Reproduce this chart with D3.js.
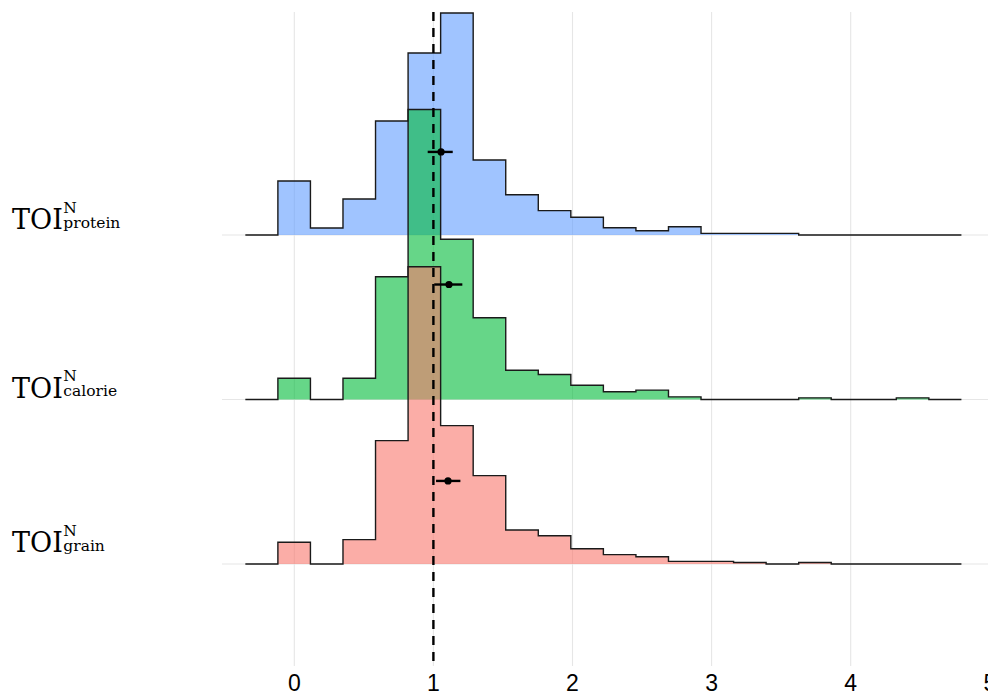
<!DOCTYPE html>
<html>
<head>
<meta charset="utf-8">
<script src="https://cdn.jsdelivr.net/npm/d3@7"></script>
<style>
  body { margin: 0; background: #fff; }
  svg { display: block; }
</style>
</head>
<body>
<div id="chart"></div>
<script>
// rows, top to bottom
const categories = ["protein", "calorie", "grain"];

// histogram bins (x units): first edge and width, 22 bins
const binStart = -0.352;
const binWidth = 0.234;

// bar heights per bin, in row-height units
const proteinBins = [0, 0.328, 0.043, 0.219, 0.693, 1.106, 1.350, 0.456, 0.245, 0.148, 0.108,
    0.044, 0.026, 0.050, 0.010, 0.010, 0.010, 0, 0, 0, 0, 0];
const calorieBins = [0, 0.129, 0, 0.129, 0.746, 1.763, 0.974, 0.497, 0.178, 0.152, 0.087,
    0.047, 0.057, 0.016, 0, 0, 0, 0.010, 0, 0, 0.010, 0];
const grainBins = [0, 0.132, 0, 0.148, 0.750, 1.807, 0.841, 0.537, 0.207, 0.172, 0.093,
    0.057, 0.044, 0.016, 0.016, 0.009, 0, 0.009, 0, 0, 0, 0];

// point + interval drawn on each ridge
const estMean = [1.055, 1.112, 1.105];
const estLow = [0.959, 1.006, 1.019];
const estHigh = [1.139, 1.208, 1.194];
const estHeight = [0.505, 0.699, 0.505];

const xTicks = [0, 1, 2, 3, 4, 5];
const refLine = 1;

const fills = { protein: "#619CFF", calorie: "#00BA38", grain: "#F8766D" };
const binsByCat = { protein: proteinBins, calorie: calorieBins, grain: grainBins };

const width = 988;
const height = 694;

const svg = d3.select("#chart")
    .append("svg")
    .attr("width", width)
    .attr("height", height);

const x = d3.scaleLinear().domain([0, 5]).range([294.3, 989.8]);
const yRow = d3.scalePoint().domain(categories).range([235, 564]);
const h = d3.scaleLinear().domain([0, 1]).range([0, yRow.step()]);

const panelTop = 12, panelBottom = 666, panelLeft = 222;

// grid
svg.append("g")
    .selectAll("line")
    .data(xTicks)
    .enter()
    .append("line")
    .attr("x1", (d) => x(d)).attr("x2", (d) => x(d))
    .attr("y1", panelTop).attr("y2", panelBottom)
    .style("stroke", "#e6e6e6")
    .style("stroke-width", 1.1);

svg.append("g")
    .selectAll("line")
    .data(categories)
    .enter()
    .append("line")
    .attr("x1", panelLeft).attr("x2", width)
    .attr("y1", (d) => yRow(d)).attr("y2", (d) => yRow(d))
    .style("stroke", "#e6e6e6")
    .style("stroke-width", 1.1);

// ridges
categories.forEach((cat) => {
    const vals = binsByCat[cat];
    const pts = vals.map((v, i) => ({ x: binStart + i * binWidth, v }));
    pts.push({ x: binStart + vals.length * binWidth, v: 0 });
    const base = yRow(cat);

    const area = d3.area()
        .curve(d3.curveStepAfter)
        .x((d) => x(d.x))
        .y0(base)
        .y1((d) => base - h(d.v));
    const line = d3.line()
        .curve(d3.curveStepAfter)
        .x((d) => x(d.x))
        .y((d) => base - h(d.v));

    const g = svg.append("g").attr("class", "ridge-" + cat);
    g.append("path")
        .attr("d", area(pts))
        .style("fill", fills[cat])
        .style("fill-opacity", 0.6)
        .style("stroke", "none");
    g.append("path")
        .attr("d", line(pts))
        .style("fill", "none")
        .style("stroke", "#1a1a1a")
        .style("stroke-width", 1.4);
});

// reference line
svg.append("line")
    .attr("x1", x(refLine)).attr("x2", x(refLine))
    .attr("y1", panelTop).attr("y2", panelBottom)
    .style("stroke", "#000")
    .style("stroke-width", 2.4)
    .style("stroke-dasharray", "9,7");

// point ranges
const est = svg.append("g");
categories.forEach((cat, i) => {
    const cy = yRow(cat) - h(estHeight[i]);
    est.append("line")
        .attr("x1", x(estLow[i])).attr("x2", x(estHigh[i]))
        .attr("y1", cy).attr("y2", cy)
        .style("stroke", "#000")
        .style("stroke-width", 2.4);
    est.append("circle")
        .attr("cx", x(estMean[i])).attr("cy", cy)
        .attr("r", 3.6)
        .style("fill", "#000");
});

// x tick labels
svg.append("g")
    .selectAll("text")
    .data(xTicks)
    .enter()
    .append("text")
    .attr("x", (d) => x(d))
    .attr("y", 691)
    .attr("text-anchor", "middle")
    .style("font-family", "'Liberation Sans', Arial, sans-serif")
    .style("font-size", "23px")
    .style("fill", "#000")
    .text((d) => d);

// y labels: TOI^N_cat
const labelShift = { protein: -6, calorie: -2, grain: -12 };
categories.forEach((cat) => {
    const base = yRow(cat) + labelShift[cat];
    const g = svg.append("g")
        .style("font-family", "'DejaVu Serif', serif")
        .style("fill", "#000");
    const main = g.append("text")
        .attr("x", 12)
        .attr("y", base)
        .style("font-size", "27px")
        .text("TOI");
    const w = main.node().getComputedTextLength();
    g.append("text")
        .attr("x", 12 + w + 0.5)
        .attr("y", base - 16.5)
        .style("font-size", "15.5px")
        .text("N");
    g.append("text")
        .attr("x", 12 + w + 0.5)
        .attr("y", base - 1.5)
        .style("font-size", "15.5px")
        .text(cat);
});
</script>
</body>
</html>
